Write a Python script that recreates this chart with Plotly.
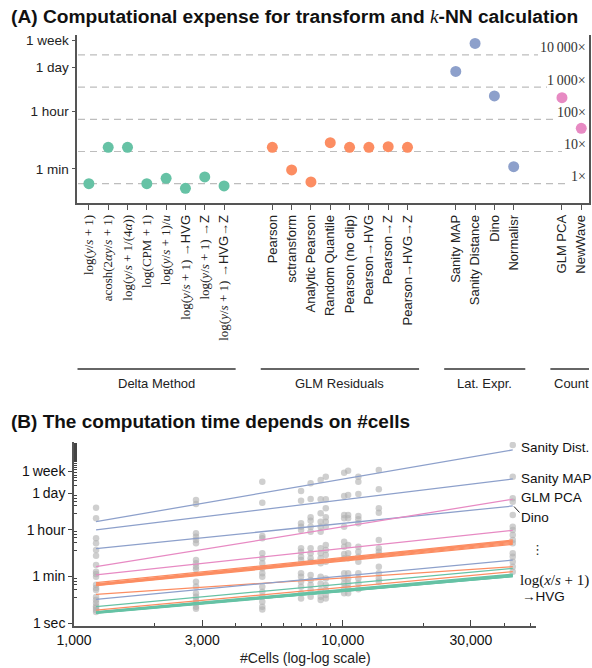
import math
import plotly.graph_objects as go

W, H = 592, 668
SANS = "Liberation Sans"
SERIF = "Liberation Serif"


def m(s):
    return f'<span style="font-family:{SERIF}">{s}</span>'


# ---------------- Panel A data ----------------
group_names = ["Delta Method", "GLM Residuals", "Lat. Expr.", "Count"]
group_colors = ["#66c2a5", "#fc8d62", "#8da0cb", "#e78ac3"]

delta_labels = [
    m("log(<i>y</i>/<i>s</i> + 1)"),
    m("acosh(2<i>αy</i>/<i>s</i> + 1)"),
    m("log(<i>y</i>/<i>s</i> + 1/(4<i>α</i>))"),
    m("log(CPM + 1)"),
    m("log(<i>y</i>/<i>s</i> + 1)/<i>u</i>"),
    m("log(<i>y</i>/<i>s</i> + 1)") + " →HVG",
    m("log(<i>y</i>/<i>s</i> + 1)") + " →Z",
    m("log(<i>y</i>/<i>s</i> + 1)") + " →HVG→Z",
]
delta_times = [20.9, 281, 281, 20.9, 30.6, 15.0, 33.9, 17.8]

glm_labels = ["Pearson", "sctransform", "Analytic Pearson", "Random Quantile",
              "Pearson (no clip)", "Pearson→HVG", "Pearson→Z", "Pearson→HVG→Z"]
glm_times = [281, 55.8, 23.7, 393, 281, 281, 296, 281]

latent_labels = ["Sanity MAP", "Sanity Distance", "Dino", "Normalisr"]
latent_times = [64400, 477000, 11100, 70.6]

count_labels = ["GLM PCA", "NewWave"]
count_times = [9820, 1094]

baseline_time = 20.9
fold_levels = [1, 10, 100, 1000, 10000]
fold_labels = ["1×", "10×", "100×", "1\u2009000×", "10\u2009000×"]

a_tick_vals = [60, 3600, 86400, 604800]
a_tick_text = ["1 min", "1 hour", "1 day", "1 week"]

# ---------------- Panel B data ----------------
cells_range = [1208, 42900]
b_methods = [
    # name, group index, time at min cells, time at max cells
    ("log(y/s+1)", 0, 2.5, 60),
    ("acosh", 0, 4.3, 123),
    ("log(y/s+1/(4a))", 0, 2.8, 75),
    ("log(CPM+1)", 0, 2.6, 66),
    ("log(y/s+1)/u", 0, 2.7, 70),
    ("log(y/s+1)->HVG", 0, 2.4, 59),
    ("log(y/s+1)->Z", 0, 2.6, 68),
    ("log(y/s+1)->HVG->Z", 0, 2.45, 62),
    ("Pearson", 1, 30, 1300),
    ("sctransform", 1, 12.7, 142),
    ("Analytic Pearson", 1, 3.2, 92),
    ("Random Quantile", 1, 35, 1470),
    ("Pearson (no clip)", 1, 28, 1100),
    ("Pearson->HVG", 1, 29, 1200),
    ("Pearson->Z", 1, 32, 1350),
    ("Pearson->HVG->Z", 1, 27, 1010),
    ("Sanity MAP", 2, 3530, 307000),
    ("Sanity Distance", 2, 7300, 3880000),
    ("Dino", 2, 687, 28800),
    ("Normalisr", 2, 8.2, 255),
    ("GLM PCA", 3, 142, 51900),
    ("NewWave", 3, 70, 3440),
]

dataset_cells = [1208, 2844, 5019, 6995, 7593, 8275, 8646, 10120, 10470, 11430, 13620, 42900]
dataset_times = [
    [24800, 9800, 1700, 1100, 612, 372, 165, 92, 75, 59, 29, 22, 18.5, 10, 7.7, 5.9, 4.5, 3.8, 3.2, 2.7],
    [48800, 34400, 2640, 1960, 1470, 1100, 255, 191, 142, 113, 38, 25, 13.8, 10.3, 7.7, 5.8, 4.3, 3.6],
    [242000, 38500, 2090, 1710, 459, 296, 191, 123, 80, 59, 24.7, 15.9, 10.3, 6.6, 4.3, 3.4],
    [107000, 45900, 6340, 4710, 3530, 711, 527, 340, 255, 80, 59, 38, 24.7, 13.8, 8.9],
    [210000, 53200, 10700, 7960, 4710, 3040, 711, 459, 296, 220, 69, 44, 28.6, 18.5, 10.3],
    [281000, 51900, 15200, 7300, 4710, 3040, 711, 459, 296, 191, 59, 33, 18.5, 10.3, 7.7],
    [375000, 51900, 23600, 10700, 7300, 4710, 948, 612, 395, 220, 51, 28.6, 18.5, 11.9, 8.9],
    [532000, 69200, 13100, 9820, 4710, 1270, 818, 432, 296, 80, 51, 33, 21.4, 13.8],
    [634000, 75500, 13100, 9820, 948, 459, 296, 80, 51, 33, 21.4, 13.8],
    [375000, 242000, 82500, 12000, 9000, 6340, 818, 527, 340, 220, 80, 51, 33, 19.6],
    [674000, 124000, 23600, 16000, 1470, 711, 527, 395, 142, 80, 51, 38],
    [6000000, 375000, 56600, 42000, 13100, 4710, 3530, 2280, 1470, 1100, 459, 340, 220, 142, 92],
]

b_tick_vals = [1, 60, 3600, 86400, 604800]
b_tick_text = ["1\u2009sec", "1\u2009min", "1\u2009hour", "1\u2009day", "1\u2009week"]
b_minor_secs = [10, 20, 30, 40, 50]
b_minor_mins = [10, 20, 30, 40, 50]
b_minor_hours = [4, 8, 12, 16, 20]
b_minor_days = [2, 3, 4, 5, 6] + list(range(8, 80, 2))

x_tick_vals = [1000, 3000, 10000, 30000]
x_tick_text = ["1,000", "3,000", "10,000", "30,000"]
x_minor_vals = [2000, 4000, 5000, 6000, 7000, 8000, 9000, 20000, 40000, 50000]


def px(x):
    return x / W


def py(y):
    return 1 - y / H


fig = go.Figure()

# ---------- Panel A traces ----------
all_groups = [(delta_labels, delta_times), (glm_labels, glm_times),
              (latent_labels, latent_times), (count_labels, count_times)]
GAP = 1.5
tick_pos, tick_txt = [], []
group_spans = []
k = 0
for g, (labs, times) in enumerate(all_groups):
    pos = [k + i + g * GAP for i in range(len(labs))]
    k += len(labs)
    tick_pos += pos
    tick_txt += labs
    group_spans.append((pos[0], pos[-1]))
    fig.add_trace(go.Scatter(
        x=pos, y=times, mode="markers", xaxis="x", yaxis="y",
        marker=dict(size=11, color=group_colors[g], line=dict(width=0)),
        showlegend=False, hoverinfo="skip"))

# ---------- Panel B traces ----------
gx, gy = [], []
for c, ts in zip(dataset_cells, dataset_times):
    gx += [c] * len(ts)
    gy += ts
fig.add_trace(go.Scatter(
    x=gx, y=gy, mode="markers", xaxis="x2", yaxis="y2",
    marker=dict(size=6.5, color="rgba(175,175,175,0.6)", line=dict(width=0)),
    showlegend=False, hoverinfo="skip"))

for name, g, t0, t1 in b_methods:
    fig.add_trace(go.Scatter(
        x=cells_range, y=[t0, t1], mode="lines", xaxis="x2", yaxis="y2",
        line=dict(color=group_colors[g], width=1.25),
        showlegend=False, hoverinfo="skip", name=name))

# ---------- shapes & annotations ----------
shapes = []
annotations = []

fold_line_ends = [568, 562, 557, 547, 538]
for lvl, lab, xe in zip(fold_levels, fold_labels, fold_line_ends):
    yv = baseline_time * lvl
    shapes.append(dict(type="line", xref="paper", yref="y", x0=px(78), x1=px(xe),
                       y0=yv, y1=yv, layer="below",
                       line=dict(color="#bdbdbd", width=1.2, dash="7px,5px")))
    annotations.append(dict(xref="paper", yref="y", x=px(588), y=math.log10(yv), yshift=7,
                            xanchor="right", yanchor="middle", text=lab, showarrow=False,
                            font=dict(family=SERIF, size=14, color="#333")))

for g, (a, b) in enumerate(group_spans):
    x0 = a - 0.6
    x1 = b + 0.6
    shapes.append(dict(type="line", xref="x", yref="paper", x0=x0, x1=x1,
                       y0=py(369), y1=py(369), line=dict(color="#333", width=1.3)))
    annotations.append(dict(xref="x", yref="paper", x=(a + b) / 2, y=py(383),
                            text=group_names[g], showarrow=False,
                            font=dict(family=SANS, size=13, color="#222")))

# titles
annotations.append(dict(xref="paper", yref="paper", x=px(9), y=py(17), xanchor="left",
                        yanchor="middle", showarrow=False,
                        text="<b>(A) Computational expense for transform and </b>"
                             '<span style="font-family:Liberation Serif"><i>k</i></span>'
                             "<b>-NN calculation</b>",
                        font=dict(family=SANS, size=19.2, color="#111")))
annotations.append(dict(xref="paper", yref="paper", x=px(9), y=py(421), xanchor="left",
                        yanchor="middle", showarrow=False,
                        text="<b>(B) The computation time depends on #cells</b>",
                        font=dict(family=SANS, size=19, color="#111")))

# panel B right labels
blabels = [("Sanity Dist.", 519, 447), ("Sanity MAP", 519, 478), ("GLM PCA", 519, 497.5),
           ("Dino", 519, 517)]
for t, x, y in blabels:
    annotations.append(dict(xref="paper", yref="paper", x=px(x), y=py(y), xanchor="left",
                            yanchor="middle", text=t, showarrow=False,
                            font=dict(family=SANS, size=13.5, color="#111")))
annotations.append(dict(xref="paper", yref="paper", x=px(537), y=py(549), xanchor="center",
                        yanchor="middle", text="⋮", showarrow=False,
                        font=dict(family="DejaVu Sans", size=13, color="#333")))
annotations.append(dict(xref="paper", yref="paper", x=px(518), y=py(580.5), xanchor="left",
                        yanchor="middle", text="log(<i>x</i>/<i>s</i> + 1)", showarrow=False,
                        font=dict(family=SERIF, size=15, color="#111")))
annotations.append(dict(xref="paper", yref="paper", x=px(520), y=py(596), xanchor="left",
                        yanchor="middle", text="→HVG", showarrow=False,
                        font=dict(family=SANS, size=13.5, color="#111")))
shapes.append(dict(type="line", xref="paper", yref="paper", x0=px(514), x1=px(519.5),
                   y0=py(506.5), y1=py(512.5), line=dict(color="#222", width=1)))

annotations.append(dict(xref="paper", yref="paper", x=px(305), y=py(657.5), xanchor="center",
                        yanchor="middle", text="#Cells (log-log scale)", showarrow=False,
                        font=dict(family=SANS, size=14, color="#222")))

AX = "#555"
b_minor_y = ([s for s in b_minor_secs] + [mm * 60 for mm in b_minor_mins]
             + [h * 3600 for h in b_minor_hours] + [d * 86400 for d in b_minor_days])
fig.update_layout(
    width=W, height=H, autosize=False,
    margin=dict(l=0, r=0, t=0, b=0, pad=0),
    paper_bgcolor="white", plot_bgcolor="rgba(0,0,0,0)",
    font=dict(family=SANS, color="#222"),
    shapes=shapes, annotations=annotations,
    xaxis=dict(domain=[px(77.3), px(589)], range=[-0.6, 25.9], anchor="y", automargin=False,
               tickmode="array", tickvals=tick_pos, ticktext=tick_txt, tickangle=-90,
               ticks="outside", ticklen=5, tickcolor=AX, tickwidth=1.3,
               showline=True, linecolor=AX, linewidth=1.5, showgrid=False, zeroline=False,
               tickfont=dict(family=SANS, size=13, color="#222")),
    yaxis=dict(domain=[py(203), py(35)], type="log", range=[0.72, 5.94], anchor="x",
               automargin=False,
               tickmode="array", tickvals=a_tick_vals, ticktext=a_tick_text,
               ticks="outside", ticklen=4, tickcolor=AX, tickwidth=1.3,
               showline=True, mirror=True, linecolor=AX, linewidth=1.5,
               showgrid=False, zeroline=False,
               tickfont=dict(family=SANS, size=13.5, color="#222")),
    xaxis2=dict(domain=[px(74), px(536)], type="log", range=[3, 4.719], autorange=False,
                anchor="y2", automargin=False,
                tickmode="array", tickvals=x_tick_vals, ticktext=x_tick_text,
                ticks="inside", ticklen=6, tickcolor="#444", tickwidth=1.3,
                minor=dict(tickmode="array", tickvals=x_minor_vals, ticks="inside",
                           ticklen=3, tickcolor="#444", tickwidth=1, showgrid=False),
                showline=True, linecolor="#555", linewidth=1.6, showgrid=False, zeroline=False,
                tickfont=dict(family=SANS, size=14, color="#111")),
    yaxis2=dict(domain=[py(626), py(442)], type="log", range=[-0.1, 6.89], autorange=False,
                anchor="x2", automargin=False,
                tickmode="array", tickvals=b_tick_vals, ticktext=b_tick_text,
                ticks="outside", ticklen=4, tickcolor="#444", tickwidth=1.3,
                minor=dict(tickmode="array", tickvals=b_minor_y, ticks="inside",
                           ticklen=3, tickcolor="#444", tickwidth=1, showgrid=False),
                showline=True, linecolor="#555", linewidth=1.6, showgrid=False, zeroline=False,
                tickfont=dict(family=SANS, size=14, color="#111")),
)

post = "document.body.style.margin='0';"
fig.write_html("out.html", post_script=post, config={"displayModeBar": False})
